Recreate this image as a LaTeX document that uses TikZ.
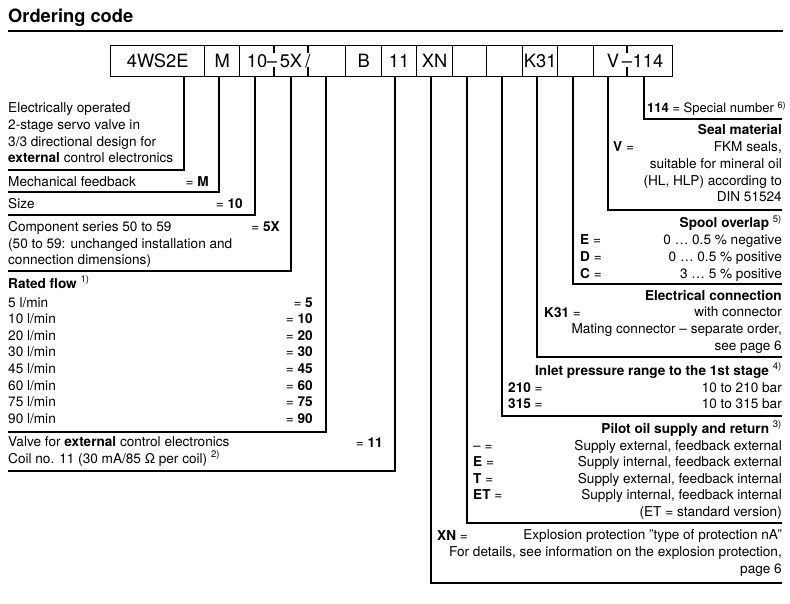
\documentclass[tikz,border=0pt]{standalone}
\usepackage{fontspec}
\setmainfont{TeX Gyre Heros}
\usetikzlibrary{positioning}
\newcommand\ocbody{\fontsize{13.6}{16.7}\selectfont}
\newcommand\ochead{\fontsize{18.3}{20}\selectfont}

\begin{document}
\begin{tikzpicture}[x=1pt,y=-1pt,
      every node/.style={inner sep=0pt, font=\ocbody},
      cell/.style={draw, line width=1.3pt, anchor=north west, minimum height=31pt,
                   minimum width=#1, font=\ochead},
      lead/.style={line width=1.1pt},
      stub/.style={line width=2pt},
      lft/.style={anchor=base west, align=left},
      rgt/.style={anchor=base east, align=right}]
    \useasboundingbox (0,0) rectangle (790,604);
    % title
    \node[lft, font=\ochead\bfseries] (title) at (8,23) {Ordering code};
    \draw[line width=2pt] (8,31) -- (783,31);
    % code boxes
    \node[cell=94pt]  (cType) at (110,45) {4WS2E};
    \node[cell=35pt]  (cFb)   at (204,45) {M};
    \node[cell=106pt] (cSer)  at (239,45) {};
    \node[cell=36pt]  (cB)    at (345,45) {B};
    \node[cell=35pt]  (cCoil) at (381,45) {11};
    \node[cell=36pt]  (cXn)   at (416,45) {XN};
    \node[cell=34pt]  (cPil)  at (452,45) {};
    \node[cell=36pt]  (cPin)  at (486,45) {};
    \node[cell=35pt]  (cEl)   at (522,45) {K31};
    \node[cell=36pt]  (cSp)   at (557,45) {};
    \node[cell=79pt]  (cSeal) at (593,45) {};
    \node[anchor=base, font=\ochead] (tSize) at (257,68) {10};
    \node[anchor=base, font=\ochead] (tDash) at (272,68) {--};
    \node[anchor=base, font=\ochead] (tSer)  at (291,68) {5X};
    \node[anchor=base, font=\ochead] (tSl)   at (308,68) {/};
    \node[anchor=base, font=\ochead] (tV)    at (613,68) {V};
    \node[anchor=base, font=\ochead] (tDash2) at (627,68) {--};
    \node[anchor=base, font=\ochead] (tNum)  at (648,68) {114};
    \foreach \s in {274,308,627} {\draw[stub] (\s,45) -- (\s,53) (\s,67) -- (\s,76);}
    % leaders
    \foreach \n/\x/\y/\e in {a/184/170/8, b/219/192/8, c/255/215/8, d/291/271/8,
        e/326/432/8, f/395/471/8, g/431/583/782, h/467/523/782, i/502/416/782,
        j/537/357/782, k/573/284/782, l/608/210/782, m/644/119/782} {
      \coordinate (tap\n) at (\x,76);
      \coordinate (end\n) at (\e,\y);
      \draw[lead] (tap\n) |- (end\n);
    }
    % left column
    \node[lft] (type) at (8,163) {Electrically operated\\2-stage servo valve in\\3/3 directional design for\\\textbf{external} control electronics};
    \node[lft] (fb) at (8,187) {Mechanical feedback};
    \node[rgt] (fbC) at (209,187) {= \textbf{M}};
    \node[lft] (size) at (8,209) {Size};
    \node[rgt] (sizeC) at (243,209) {= \textbf{10}};
    \node[lft] (ser) at (8,265) {Component series 50 to 59\\(50 to 59: unchanged installation and\\connection dimensions)};
    \node[rgt] (serC) at (280,232) {= \textbf{5X}};
    \node[lft] (flow) at (8,288) {\textbf{Rated flow} \textsuperscript{1)}};
    \foreach \q [count=\i] in {5,10,20,30,45,60,75,90} {
      \node[lft] (fl\q) at (8,{307+16.6*(\i-1)}) {\q\ l/min};
      \node[rgt] (flC\q) at (313,{307+16.6*(\i-1)}) {= \textbf{\q}};
    }
    \node[lft] (coil) at (8,463) {Valve for \textbf{external} control electronics\\Coil no. 11 (30 mA/85 Ω per coil) \textsuperscript{2)}};
    \node[rgt] (coilC) at (383,447) {= \textbf{11}};
    % right column
    \node[lft, font=\fontsize{13}{16}\selectfont] (spec) at (647,113) {\textbf{114} = Special number \textsuperscript{6)}};
    \node[rgt] (seal) at (782,135) {\textbf{Seal material}};
    \node[lft] (sealC) at (613,152) {\textbf{V} =};
    \node[rgt] (sealT) at (782,202) {FKM seals,\\suitable for mineral oil\\(HL, HLP) according to\\DIN 51524};
    \node[rgt] (spool) at (782,228) {\textbf{Spool overlap} \textsuperscript{5)}};
    \foreach \c/\t/\y in {E/0 … 0.5 \% negative/245, D/0 … 0.5 \% positive/261.5, C/3 … 5 \% positive/278} {
      \node[lft] (sp\c) at (580,\y) {\textbf{\c} =};
      \node[rgt] (spT\c) at (782,\y) {\t};
    }
    \node[rgt] (elec) at (782,300) {\textbf{Electrical connection}};
    \node[lft] (elecC) at (544,317) {\textbf{K31} =};
    \node[rgt] (elecT) at (782,350) {with connector\\Mating connector – separate order,\\see page 6};
    \node[rgt] (pin) at (782,375) {\textbf{Inlet pressure range to the 1st stage} \textsuperscript{4)}};
    \node[lft] (pin210) at (508,392) {\textbf{210} =};
    \node[rgt] (pinT210) at (782,392) {10 to 210 bar};
    \node[lft] (pin315) at (508,408) {\textbf{315} =};
    \node[rgt] (pinT315) at (782,408) {10 to 315 bar};
    \node[rgt] (pil) at (782,433) {\textbf{Pilot oil supply and return} \textsuperscript{3)}};
    \node[lft] (pil0) at (473,450) {– =};
    \node[rgt] (pilT0) at (782,450) {Supply external, feedback external};
    \node[lft] (pilE) at (473,466.5) {\textbf{E} =};
    \node[rgt] (pilTE) at (782,466.5) {Supply internal, feedback external};
    \node[lft] (pilT) at (473,483) {\textbf{T} =};
    \node[rgt] (pilTT) at (782,483) {Supply external, feedback internal};
    \node[lft] (pilET) at (473,499.5) {\textbf{ET} =};
    \node[rgt] (pilTET) at (782,516) {Supply internal, feedback internal\\(ET = standard version)};
    \node[lft] (xn) at (437,540) {\textbf{XN} =};
    \node[rgt] (xnT) at (782,573) {Explosion protection "type of protection nA"\\For details, see information on the explosion protection,\\page 6};
  \end{tikzpicture}
\end{document}
